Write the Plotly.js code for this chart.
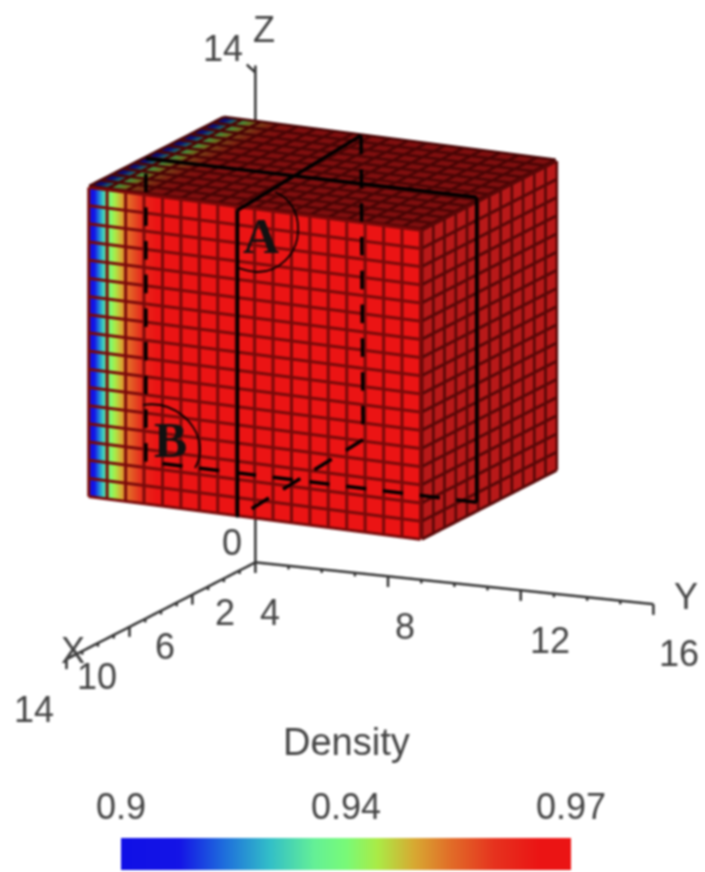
<!DOCTYPE html>
<html><head><meta charset="utf-8">
<script src="https://cdn.plot.ly/plotly-3.0.1.min.js"></script>
<style>html,body{margin:0;padding:0;background:#fff}#g{width:705px;height:872px;filter:blur(1px)}</style>
</head><body><div id="g"></div>
<script>
// ---- data ----
const cubeX = [4.0, 12.56], cubeY = [4, 14], cubeZ = [4.26, 12.97];
const cellsX = 12, cellsY = 18, cellsZ = 17;
const densityAlongY = [0.90,0.933,0.95,0.961,0.967,0.97,0.97,0.97,0.97,0.97,0.97,0.97,0.97,0.97,0.97,0.97,0.97,0.97,0.97];
const colorStops = [[0,'#1010e6'],[0.13,'#1414e6'],[0.23,'#1e6edc'],[0.33,'#32bec8'],[0.43,'#64f096'],[0.5,'#78fa78'],[0.57,'#aaeb46'],[0.65,'#d7aa32'],[0.73,'#e16e28'],[0.83,'#e6321e'],[0.93,'#eb1414'],[1,'#eb1414']];
const topStops = [[0,'#0a0a70'],[0.13,'#0c0c70'],[0.23,'#123c70'],[0.33,'#1e6468'],[0.43,'#38804e'],[0.5,'#448640'],[0.57,'#5e7e26'],[0.65,'#745c1a'],[0.73,'#7a3c16'],[0.83,'#7e1c10'],[0.93,'#800f0f'],[1,'#800f0f']];
const rightStops = [[0,'#b81919'],[1,'#b81919']];
const axisX = [2,6,10,14], axisY = [4,8,12,16];
const yEndZ = 0.27;
const planeA = [[12.56,8.47,4.205],[12.56,8.47,12.86],[4.71,8.47,13.18],[4.58,8.47,4.58]];
const planeB = [[8.96,4,12.96],[8.96,13.97,13.07],[8.96,13.97,4.475],[8.96,4,4.42]];
const barTicks = [0.9,0.935,0.97], barLabels = ['0.9','0.94','0.97'];
const densityRange = [0.9,0.97];
const eyeDir = [0.8636,0.4334,0.2572], eyeLen = 1.8;
const viewData = [0.9135,0.4334,0.2601]; // view direction per data unit

// ---- mesh ----
const steps=(r,n)=>Array.from({length:n+1},(_,i)=>r[0]+(r[1]-r[0])*i/n);
const gx=steps(cubeX,cellsX), gy=steps(cubeY,cellsY), gz=steps(cubeZ,cellsZ);
const surf=(X,Y,Z,C,scale,extra)=>Object.assign({type:'surface',scene:'scene',x:X,y:Y,z:Z,surfacecolor:C,
  cmin:densityRange[0],cmax:densityRange[1],colorscale:scale,showscale:false,hoverinfo:'skip',
  lighting:{ambient:1,diffuse:0,specular:0,roughness:1,fresnel:0}},extra||{});
const xMax=cubeX[1], yMax=cubeY[1], zMax=cubeZ[1];
const left=surf(gz.map(()=>gy.map(()=>xMax)),gz.map(()=>gy.slice()),gz.map(z=>gy.map(()=>z)),gz.map(()=>densityAlongY.slice()),colorStops,
 {showscale:true,colorbar:{orientation:'h',x:346/705,xanchor:'center',y:2/872,yanchor:'bottom',xpad:0,ypad:0,len:450,lenmode:'pixels',thickness:32,
   showticklabels:false,ticks:'',outlinewidth:0}});
const top_=surf(gx.map(x=>gy.map(()=>x)),gx.map(()=>gy.slice()),gx.map(()=>gy.map(()=>zMax)),gx.map(()=>densityAlongY.slice()),topStops);
const right=surf(gz.map(()=>gx.slice()),gz.map(()=>gx.map(()=>yMax)),gz.map(z=>gx.map(()=>z)),gz.map(()=>gx.map(()=>densityRange[1])),rightStops);

const lines3d=(segs,color,width)=>{const x=[],y=[],z=[];segs.forEach(s=>{x.push(s[0][0],s[1][0],null);y.push(s[0][1],s[1][1],null);z.push(s[0][2],s[1][2],null);});
  return {type:'scatter3d',scene:'scene',mode:'lines',x,y,z,line:{color,width},hoverinfo:'skip',showlegend:false};};
const e=0.03, gridLeft=[], gridTop=[], gridRight=[];
gy.forEach(y=>{gridLeft.push([[xMax+e,y,cubeZ[0]],[xMax+e,y,zMax]]);gridTop.push([[cubeX[0],y,zMax+e],[xMax,y,zMax+e]]);});
gz.forEach(z=>{gridLeft.push([[xMax+e,cubeY[0],z],[xMax+e,yMax,z]]);gridRight.push([[cubeX[0],yMax+e,z],[xMax,yMax+e,z]]);});
gx.forEach(x=>{gridTop.push([[x,cubeY[0],zMax+e],[x,yMax,zMax+e]]);gridRight.push([[x,yMax+e,cubeZ[0]],[x,yMax+e,zMax]]);});

const yz=y=>yEndZ*(y-4)/12, axs=[];
axs.push([[2,4,0],[14,4,0]],[[2,4,0],[2,16,yEndZ]],[[2,4,0],[2,4,14]],[[2,4,13.8],[2.55,4,14.15]]);
for(let x=2;x<=14;x++)axs.push([[x,4,0],[x,4,axisX.includes(x)?-0.28:-0.1]]);
for(let y=4;y<=16;y++)axs.push([[2,y,yz(y)],[2,y,yz(y)-(axisY.includes(y)?0.3:0.1)]]);

// section planes: slide each corner along the line of sight until it is in front of the cube
const front=p=>{const t=(xMax+0.15-p[0])/viewData[0];return [p[0]+t*viewData[0],p[1]+t*viewData[1],p[2]+t*viewData[2]];};
const dashes=(p,q,n)=>{const P=front(p),Q=front(q),o=[];for(let i=0;i<n;i++){const a=i/n,b=(i+0.55)/n;
  o.push([P.map((v,k)=>v+(Q[k]-v)*a),P.map((v,k)=>v+(Q[k]-v)*b)]);}return o;};
const solid=[[front(planeA[0]),front(planeA[1])],[front(planeA[1]),front(planeA[2])],[front(planeB[0]),front(planeB[1])],[front(planeB[1]),front(planeB[2])]];
const dashed=[].concat(dashes(planeA[2],planeA[3],9),dashes(planeA[3],planeA[0],4),dashes(planeB[2],planeB[3],9),dashes(planeB[3],planeB[0],9));

const tick=(x,y,z,text,dx,dy)=>({x,y,z,text,showarrow:false,xshift:dx,yshift:-dy,xanchor:'center',yanchor:'middle',font:{family:'Liberation Sans',size:36,color:'#444'}});
const rng=(a,b)=>({range:[a,b],showbackground:false,showgrid:false,zeroline:false,showline:false,showticklabels:false,ticks:'',showspikes:false,showaxeslabels:false,title:{text:''}});
const cam={eye:{x:eyeDir[0]*eyeLen,y:eyeDir[1]*eyeLen,z:eyeDir[2]*eyeLen},up:{x:0,y:0,z:1},center:{x:0,y:0,z:0},projection:{type:'orthographic'}};
const annots=[
 tick(2,4,14,'14',-32,-17),tick(2,4,0,'0',-23,-20),tick(2,4,14,'Z',9,-36),
 tick(2,4,0,'2',-30,50),tick(6,4,0,'6',-27,52),tick(10,4,0,'10',-33,50),tick(13.5,4,0,'14',-40,54),tick(13.5,4,0,'X',-1,-5),
 tick(2,4,0,'4',15,50),tick(2,8,yz(8),'8',17,50),tick(2,12,yz(12),'12',29,50),tick(2,16,yEndZ,'16',26,49),tick(2,16,yEndZ,'Y',33,-8)];
const P=(x,y)=>(x/705).toFixed(4)+','+(1-y/872).toFixed(4);
const pageLabel=(x,y,text,family,size,color)=>({xref:'paper',yref:'paper',x:x/705,y:1-y/872,xanchor:'center',yanchor:'middle',text,showarrow:false,font:{family,size,color}});
const layout={width:705,height:872,margin:{l:0,r:0,t:0,b:0},paper_bgcolor:'#fff',showlegend:false,
 scene:{domain:{x:[15/705,1],y:[1-776/872,1]},camera:cam,aspectmode:'manual',aspectratio:{x:1.103,y:1.167,z:1.704},
  xaxis:rng(1.9,14.1),yaxis:rng(3.9,16.1),zaxis:rng(-2,16),bgcolor:'rgba(0,0,0,0)',annotations:annots},
 annotations:[pageLabel(346,742,'Density','Liberation Sans',38,'#444'),
  pageLabel(261,236,'<b>A</b>','Liberation Serif',50,'#111'),pageLabel(170,440,'<b>B</b>','Liberation Serif',50,'#111')]
   .concat(barTicks.map((v,i)=>pageLabel(121+450*(v-densityRange[0])/(densityRange[1]-densityRange[0]),806,barLabels[i],'Liberation Sans',36,'#444'))),
 shapes:[
  {type:'path',xref:'paper',yref:'paper',line:{color:'#000',width:1.8},path:`M${P(275,192)} C${P(292,199)} ${P(299,215)} ${P(298,232)} C${P(297,255)} ${P(278,272)} ${P(258,272)} C${P(251,272)} ${P(244,270)} ${P(238,268)}`},
  {type:'path',xref:'paper',yref:'paper',line:{color:'#000',width:1.8},path:`M${P(143,405)} C${P(175,400)} ${P(200,425)} ${P(200,450)} C${P(200,457)} ${P(198,463)} ${P(195,468)}`}]
};
Plotly.newPlot('g',[left,top_,right,lines3d(gridLeft,'#7a0a0a',6),lines3d(gridTop,'#4a0505',6),lines3d(gridRight,'#5a0808',6),lines3d(axs,'#333',5),lines3d(solid,'#000',7),lines3d(dashed,'#000',7)],layout,{displayModeBar:false});
</script></body></html>
